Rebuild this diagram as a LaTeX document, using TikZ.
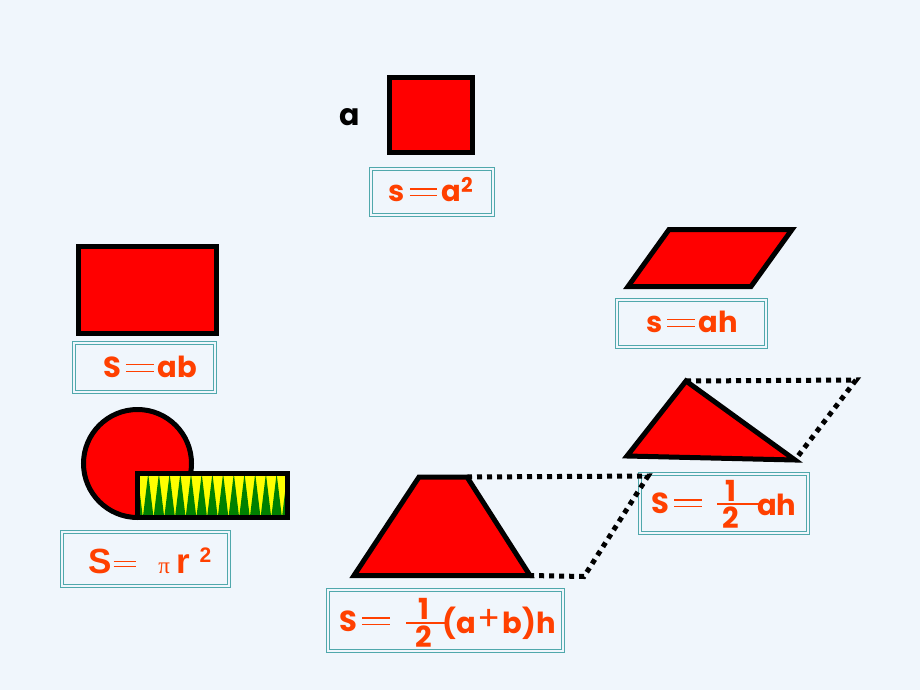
\documentclass[tikz,border=0pt]{standalone}
\usepackage{fontspec}
\setmainfont{Poppins}
\newfontfamily\arialf{Liberation Sans}
\newfontfamily\seriff{Liberation Serif}
\definecolor{bgc}{RGB}{240,246,252}
\definecolor{txt}{RGB}{255,64,0}
\definecolor{tealb}{RGB}{80,168,172}
\definecolor{grn}{RGB}{0,128,0}
\definecolor{yel}{RGB}{255,255,0}
\newcommand\eq{\hspace{5pt}\rlap{\rule[0.43em]{0.95em}{1.3pt}}\rule[0.2em]{0.95em}{1.3pt}\hspace{4pt}}
\tikzset{
  shapefill/.style={fill=red, draw=black, line width=5pt, line join=miter},
  fbox/.style={draw=tealb, double=bgc, double distance=2pt, line width=1.3pt, inner sep=0pt},
  ftxt/.style={text=txt, font=\bfseries\fontsize{29}{29}\selectfont, inner sep=0pt},
  dotline/.style={line width=5pt, dash pattern=on 5pt off 5pt, draw=black},
}
\begin{document}
\begin{tikzpicture}[x=1pt,y=-1pt]
\fill[bgc] (0,0) rectangle (920,690);
\useasboundingbox (0,0) rectangle (920,690);
% square
\draw[shapefill] (389.5,77.5) rectangle (472.5,152.5);
\node[font=\bfseries\fontsize{30}{30}\selectfont, inner sep=0pt] (la) at (350,117) {a};
\node[fbox, minimum width=122pt, minimum height=46pt] (b1) at (432,192) {};
\node[ftxt] (t1) at (431,190) {s\eq a\textsuperscript{2}};
% rectangle
\draw[shapefill] (78.5,246.5) rectangle (216.5,333.5);
\node[fbox, minimum width=141pt, minimum height=49pt] (b2) at (144.5,367.5) {};
\node[ftxt] (t2) at (150,367) {S\eq ab};
% circle + strip
\draw[shapefill] (137.5,463.5) circle (54);
\begin{scope}
\clip (137.5,473.5) rectangle (287.5,517.5);
\fill[yel] (137.5,473.5) rectangle (287.5,517.5);
\foreach \i in {0,...,14} {
  \fill[grn] ({137.5+\i*10.7-5.35},517.5) -- ({137.5+\i*10.7},473.5) -- ({137.5+\i*10.7+5.35},517.5) -- cycle;
}
\end{scope}
\draw[black, line width=5pt] (137.5,473.5) rectangle (287.5,517.5);
\node[fbox, minimum width=167pt, minimum height=54pt] (b3) at (145.5,559) {};
\node[text=txt, inner sep=0pt, anchor=base west] (t3) at (88,573) {\arialf\bfseries\fontsize{35}{35}\selectfont S\hspace{2pt}\rlap{\rule[0.17em]{0.65em}{1.3pt}}\rule[0.32em]{0.65em}{1.3pt}\hspace{22pt}{\seriff\mdseries\fontsize{23}{23}\selectfont π}\hspace{7pt}r\hspace{9pt}\raisebox{11pt}{\fontsize{21}{21}\selectfont 2}};
% parallelogram
\draw[shapefill] (669,229.5) -- (792,229.5) -- (751,286.5) -- (628,286.5) -- cycle;
\node[fbox, minimum width=149pt, minimum height=47pt] (b4) at (691.5,323.5) {};
\node[ftxt] (t4) at (692,322) {s\eq ah};
% triangle with dotted parallelogram
\coordinate (ta) at (686,381);
\coordinate (tb) at (627,456);
\coordinate (tc) at (795,460);
\coordinate (td) at (856,380);
\draw[dotline] (ta) -- (td) -- (tc);
\draw[shapefill] (ta) -- (tc) -- (tb) -- cycle;
\node[fbox, minimum width=168pt, minimum height=59pt] (b5) at (724,503.5) {};
% trapezoid with dotted extension
\coordinate (pa) at (419,477);
\coordinate (pb) at (467,477);
\coordinate (pc) at (530,575.5);
\coordinate (pd) at (354,575.5);
\coordinate (pe) at (648,476);
\coordinate (pf) at (584,576.5);
\draw[dotline] (pb) -- (pe) -- (pf) -- (pc);
\draw[shapefill] (pa) -- (pb) -- (pc) -- (pd) -- cycle;
\node[fbox, minimum width=235pt, minimum height=61pt] (b6) at (445.5,620.5) {};
% fraction texts in b5
\node[ftxt, anchor=west] (t5a) at (651,503) {S\eq};
\node[ftxt] (t5n) at (731,491) {1};
\node[ftxt] (t5d) at (731,518) {2};
\draw[txt, line width=1.5pt] (717,504) -- (762,504);
\node[ftxt, anchor=west] (t5b) at (757,505) {ah};
% fraction texts in b6
\node[ftxt, anchor=west] (t6a) at (339,621) {S\eq};
\node[ftxt] (t6n) at (424,609) {1};
\node[ftxt] (t6d) at (424,637) {2};
\draw[txt, line width=1.5pt] (406,623) -- (445,623);
\node[ftxt, anchor=west] (t6b) at (442,623) {(a\hspace{2pt}\raisebox{0.08em}{\mdseries\fontsize{34}{34}\selectfont +}\hspace{2pt}b)h};
\end{tikzpicture}
\end{document}
